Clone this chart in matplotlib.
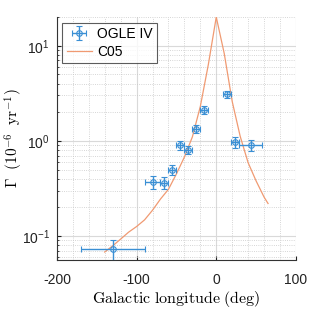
import numpy as np
import matplotlib
matplotlib.use('Agg')
import matplotlib.pyplot as plt
from matplotlib.ticker import MultipleLocator, LogLocator, NullFormatter

plt.rcParams['font.family'] = ['Liberation Sans', 'DejaVu Sans']
plt.rcParams['mathtext.fontset'] = 'cm'
plt.rcParams['axes.unicode_minus'] = False

# OGLE IV event rates
lon = [-130, -80, -66, -56, -46, -35, -26, -15, 14, 24, 43]
lon_err = [40, 10, 5, 5, 5, 5, 5, 5, 5, 5, 15]
rate = [0.073, 0.37, 0.365, 0.50, 0.90, 0.80, 1.34, 2.1, 3.1, 0.97, 0.90]
rate_err = [0.018, 0.06, 0.05, 0.06, 0.10, 0.08, 0.13, 0.2, 0.25, 0.12, 0.11]

# C05 model curve
c05_lon = [-140, -130, -120, -110, -100, -90, -80, -70, -60, -50, -40, -30,
           -20, -10, 0, 10, 20, 30, 40, 50, 60, 65]
c05_rate = [0.068, 0.079, 0.093, 0.11, 0.126, 0.148, 0.187, 0.245, 0.31, 0.45,
            0.676, 1.1, 2.3, 6.3, 20, 8.3, 2.6, 1.12, 0.59, 0.38, 0.257, 0.22]

fig = plt.figure(figsize=(3.27, 3.16), dpi=100)
ax = fig.add_axes([0.174, 0.177, 0.731, 0.769])

ogle = ax.errorbar(lon, rate, xerr=lon_err, yerr=rate_err, fmt='o', ms=4,
                   mfc='none', color='#3a8fd4', ecolor='#3a8fd4',
                   elinewidth=1.0, capsize=2, mew=0.8, zorder=3)
c05, = ax.plot(c05_lon, c05_rate, color='#f09a72', lw=0.9, zorder=2)

ax.set_yscale('log')
ax.set_xlim(-200, 100)
ax.set_ylim(0.056, 20)
ax.xaxis.set_major_locator(MultipleLocator(100))
ax.xaxis.set_minor_locator(MultipleLocator(20))
ax.yaxis.set_minor_locator(LogLocator(base=10, subs=np.arange(2, 10)))
ax.yaxis.set_minor_formatter(NullFormatter())

ax.grid(True, which='major', color='#d9d9d9', lw=0.8, ls='-')
ax.grid(True, which='minor', color='#c8c8c8', lw=0.6, ls=':')
ax.set_axisbelow(True)

for s in ['top', 'right']:
    ax.spines[s].set_visible(False)
for s in ['left', 'bottom']:
    ax.spines[s].set_color('#333333')
    ax.spines[s].set_linewidth(0.8)

ax.tick_params(which='both', direction='in', labelsize=10, colors='#222222')
ax.tick_params(which='major', length=3)
ax.tick_params(which='minor', length=1.5)
ax.tick_params(axis='x', which='minor', length=0)
ax.tick_params(axis='x', pad=9)
ax.tick_params(axis='y', pad=5)

ax.set_xlabel(r'$\mathrm{Galactic\ longitude\ (deg)}$', fontsize=11.5, labelpad=2)
ax.set_ylabel(r'$\Gamma\ \ (10^{-6}\ \ \mathrm{yr}^{-1})$', fontsize=11)
ax.yaxis.set_label_coords(-0.135, 0.5)

leg = ax.legend([ogle, c05], ['OGLE IV', 'C05'], loc='upper left', fontsize=10,
                frameon=True, fancybox=False, edgecolor='#333333',
                handlelength=1.8, borderpad=0.3, labelspacing=0.3,
                handletextpad=0.4, borderaxespad=0.4)
leg.get_frame().set_linewidth(0.8)

fig.savefig('out.png', dpi=100)
